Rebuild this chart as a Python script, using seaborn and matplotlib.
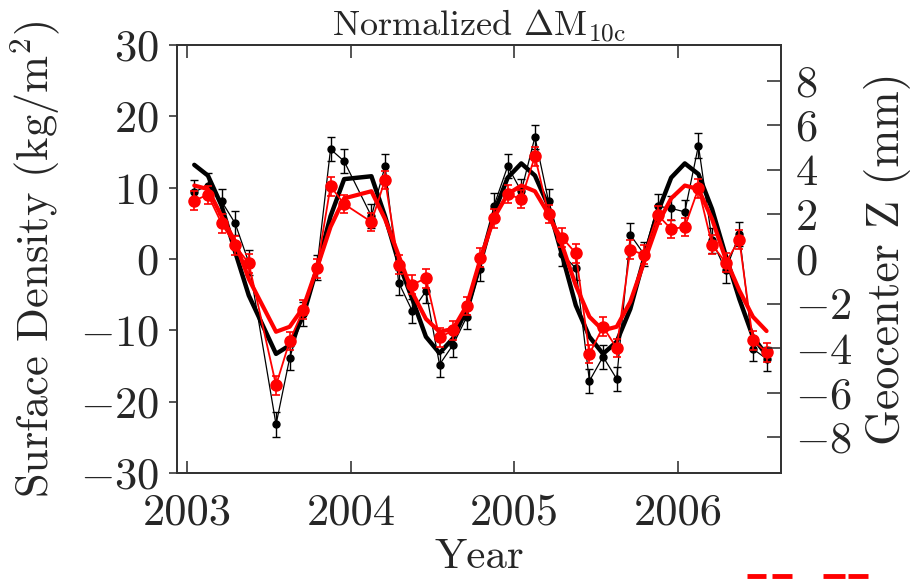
#!/usr/bin/env python3
"""
Normalized Delta M_10c: surface density series vs. geocenter Z,
monthly points with error bars plus smooth fitted curves.
"""

import numpy as np
import pandas as pd
import matplotlib
matplotlib.use("Agg")
import matplotlib.pyplot as plt
from matplotlib.lines import Line2D
import seaborn as sns

# ─── Data ────────────────────────────────────────────────────────────────────
MONTHS = [
    "2003-01", "2003-02", "2003-03", "2003-04", "2003-05", "2003-07", "2003-08",
    "2003-09", "2003-10", "2003-11", "2003-12",
    "2004-02", "2004-03", "2004-04", "2004-05", "2004-06", "2004-07", "2004-08",
    "2004-09", "2004-10", "2004-11", "2004-12",
    "2005-01", "2005-02", "2005-03", "2005-04", "2005-05", "2005-06", "2005-07",
    "2005-08", "2005-09", "2005-10", "2005-11", "2005-12",
    "2006-01", "2006-02", "2006-03", "2006-04", "2006-05", "2006-06", "2006-07",
]

# thin black series (kg/m^2)
black_obs = [
    9.4, 10.3, 8.1, 5.0, -0.5, -23.2, -13.9, -7.7, -1.2, 15.4, 13.7,
    6.0, 13.0, -3.3, -7.3, -4.5, -14.8, -12.0, -8.1, -1.4, 7.5, 13.0,
    9.5, 17.1, 8.1, 0.7, -1.3, -17.1, -13.7, -16.8, 3.4, 0.7, 7.4, 7.1,
    6.6, 15.9, 2.6, -1.6, 3.5, -12.6, -14.0,
]
black_err = 1.7

# thin red series (kg/m^2)
red_obs = [
    8.2, 9.0, 5.0, 1.9, -0.6, -17.7, -11.5, -7.1, -1.3, 10.2, 7.7,
    5.2, 11.1, -0.8, -3.6, -2.7, -11.0, -10.0, -6.6, 0.2, 5.7, 9.1,
    8.4, 14.4, 6.3, 3.0, 0.8, -13.3, -9.5, -12.5, 1.3, 0.6, 6.2, 4.2,
    4.5, 9.9, 2.0, -0.5, 2.7, -11.4, -13.1,
]
red_err = 1.3

# thick smooth curves
black_fit = [
    13.2, 11.7, 7.5, 1.0, -5.1, -13.3, -12.1, -7.9, -1.3, 6.0, 11.2,
    11.6, 6.0, -0.5, -5.6, -10.9, -13.2, -11.1, -7.0, -0.5, 6.5, 11.4,
    13.4, 11.7, 7.4, 0.5, -6.5, -10.9, -13.3, -11.6, -7.0, 0.0, 6.5, 11.4,
    13.4, 11.9, 7.0, 0.5, -5.6, -10.9, -13.5,
]
red_fit = [
    10.3, 9.8, 6.0, 2.4, -2.8, -10.2, -9.5, -6.8, -1.3, 4.5, 8.5,
    9.5, 5.6, 0.5, -4.7, -8.4, -10.2, -9.8, -6.5, 0.0, 5.8, 9.1,
    10.3, 9.5, 6.3, 1.9, -3.7, -8.1, -10.0, -9.5, -6.0, -0.5, 4.9, 8.5,
    10.3, 9.8, 5.6, 0.0, -4.4, -8.1, -10.1,
]

YEAR_TICKS = [2003, 2004, 2005, 2006]
LEFT_TICKS = [-30, -20, -10, 0, 10, 20, 30]
RIGHT_TICKS = [-8, -6, -4, -2, 0, 2, 4, 6, 8]


def decimal_year(label):
    y, m = label.split("-")
    return int(y) + (int(m) - 0.5) / 12.0


# ─── Plot ────────────────────────────────────────────────────────────────────
def main():
    sns.set_style("ticks")
    plt.rcParams["font.family"] = "serif"
    plt.rcParams["font.serif"] = ["cmr10", "DejaVu Serif"]
    plt.rcParams["mathtext.fontset"] = "cm"
    plt.rcParams["axes.formatter.use_mathtext"] = True
    plt.rcParams["axes.unicode_minus"] = True

    df = pd.DataFrame({
        "t": [decimal_year(m) for m in MONTHS],
        "black_obs": black_obs,
        "red_obs": red_obs,
        "black_fit": black_fit,
        "red_fit": red_fit,
    })

    fig = plt.figure(figsize=(9.15, 5.79), dpi=100)
    ax = fig.add_axes([177 / 915, 1 - 473 / 579, (781 - 177) / 915, (473 - 45) / 579])

    ax.errorbar(df["t"], df["black_obs"], yerr=black_err, color="black",
                lw=0.9, marker="o", ms=5, capsize=3, elinewidth=1.0,
                capthick=1.0, zorder=2)
    sns.lineplot(data=df, x="t", y="black_fit", ax=ax, color="black", lw=3.2,
                 estimator=None, sort=False, zorder=3)
    sns.lineplot(data=df, x="t", y="red_fit", ax=ax, color="#ff0000", lw=3.0,
                 estimator=None, sort=False, zorder=4)
    ax.errorbar(df["t"], df["red_obs"], yerr=red_err, color="#ff0000",
                lw=1.3, marker="o", ms=8, capsize=3, elinewidth=1.2,
                capthick=1.2, zorder=5)

    ax.set_xlim(2002.936, 2006.63)
    ax.set_ylim(-30, 30)
    ax.set_xticks(YEAR_TICKS)
    ax.set_xticklabels([str(y) for y in YEAR_TICKS])
    ax.set_yticks(LEFT_TICKS)
    ax.tick_params(axis="y", direction="out", length=6, width=1.1,
                   labelsize=32, pad=7, left=True, right=False)
    ax.tick_params(axis="x", direction="in", length=9, width=1.1,
                   labelsize=32, pad=15, top=True, bottom=True)
    ax.set_xlabel("Year", fontsize=31, labelpad=3)
    ax.set_ylabel(r"Surface Density (kg/m$^2$)", fontsize=32)
    ax.yaxis.set_label_coords(-0.19, 0.5)
    ax.set_title(r"Normalized $\Delta$M$_{\mathrm{10c}}$", fontsize=26, pad=4)

    ax2 = ax.twinx()
    ax2.set_ylim(-9.6, 9.6)
    ax2.set_yticks(RIGHT_TICKS)
    ax2.tick_params(axis="y", direction="in", length=10, width=1.1,
                    labelsize=32, pad=10)
    ax2.set_ylabel("Geocenter Z (mm)", fontsize=33, labelpad=8)

    for a in (ax, ax2):
        for sp in a.spines.values():
            sp.set_visible(True)
            sp.set_linewidth(1.3)
            sp.set_color("#333333")

    # clipped red marks at the bottom edge of the original figure
    for x0, x1 in [(747, 766), (772, 792), (823, 845), (848, 868)]:
        fig.add_artist(Line2D([x0 / 915, x1 / 915], [3 / 579, 3 / 579],
                              color="#ff0000", lw=3.5, solid_capstyle="butt"))

    fig.savefig("out.png", dpi=100)
    plt.close(fig)


if __name__ == "__main__":
    main()
